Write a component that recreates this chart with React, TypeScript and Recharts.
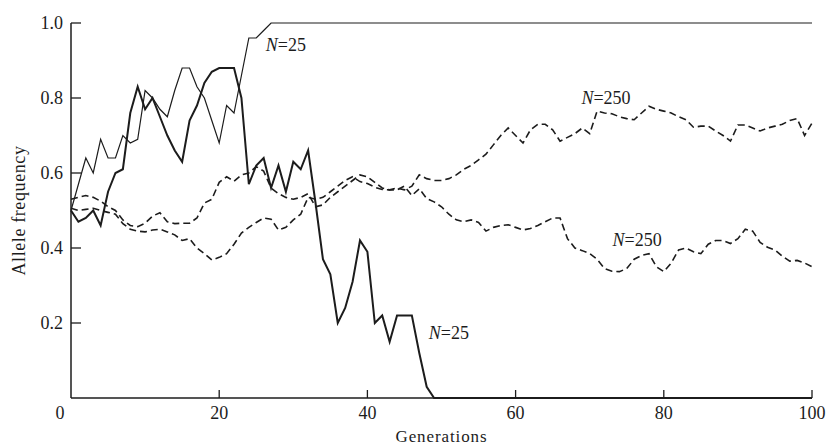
import { LineChart, Line, XAxis, YAxis, ReferenceDot } from 'recharts'

// allele frequency per generation
// N=25 run that drifts to fixation (flat at 1.0 after gen 27)
const N25_FIXED = [
  0.5, 0.57, 0.64, 0.6, 0.69, 0.64, 0.64, 0.7, 0.68, 0.69,
  0.82, 0.8, 0.77, 0.75, 0.82, 0.88, 0.88, 0.83, 0.8, 0.74,
  0.68, 0.78, 0.76, 0.86, 0.96, 0.96, 0.98, 1.0,
]
// N=25 run that drifts to loss (flat at 0 after gen 49)
const N25_LOST = [
  0.5, 0.47, 0.48, 0.5, 0.46, 0.55, 0.6, 0.61, 0.76, 0.83,
  0.77, 0.8, 0.75, 0.7, 0.66, 0.63, 0.74, 0.78, 0.84, 0.87,
  0.88, 0.88, 0.88, 0.8, 0.57, 0.62, 0.64, 0.56, 0.62, 0.55,
  0.63, 0.61, 0.66, 0.52, 0.37, 0.33, 0.2, 0.24, 0.31, 0.42,
  0.39, 0.2, 0.22, 0.15, 0.22, 0.22, 0.22, 0.12, 0.03, 0.0,
]
const LAST_GEN = 100
const FIXED_END = 1.0
const LOST_END = 0.0

const N250_HIGH = [
  0.53, 0.535, 0.54, 0.535, 0.525, 0.51, 0.5, 0.475, 0.46, 0.457,
  0.466, 0.485, 0.494, 0.47, 0.465, 0.466, 0.466, 0.48, 0.52, 0.53,
  0.575, 0.59, 0.578, 0.595, 0.6, 0.617, 0.605, 0.56, 0.545, 0.535,
  0.53, 0.535, 0.545, 0.51, 0.515, 0.535, 0.55, 0.565, 0.58, 0.595,
  0.59, 0.575, 0.56, 0.555, 0.56, 0.555, 0.565, 0.595, 0.585, 0.58,
  0.58, 0.585, 0.595, 0.61, 0.62, 0.635, 0.65, 0.675, 0.7, 0.72,
  0.7, 0.68, 0.715, 0.73, 0.73, 0.715, 0.685, 0.695, 0.705, 0.72,
  0.705, 0.765, 0.76, 0.758, 0.75, 0.745, 0.742, 0.76, 0.778, 0.77,
  0.765, 0.76, 0.75, 0.742, 0.722, 0.725, 0.725, 0.712, 0.7, 0.685,
  0.728, 0.728, 0.72, 0.712, 0.72, 0.725, 0.73, 0.74, 0.745, 0.7,
  0.733,
]
const N250_LOW = [
  0.506, 0.5, 0.503, 0.506, 0.5, 0.495, 0.49, 0.465, 0.45, 0.445,
  0.443, 0.448, 0.45, 0.443, 0.435, 0.42, 0.425, 0.4, 0.385, 0.368,
  0.375, 0.385, 0.41, 0.44, 0.455, 0.468, 0.48, 0.477, 0.448, 0.455,
  0.475, 0.49, 0.535, 0.53, 0.535, 0.55, 0.565, 0.58, 0.59, 0.577,
  0.572, 0.562, 0.556, 0.555, 0.555, 0.565, 0.54, 0.558, 0.532, 0.523,
  0.51, 0.49, 0.475, 0.47, 0.475, 0.468, 0.445, 0.455, 0.46, 0.462,
  0.455, 0.448, 0.452, 0.46, 0.47, 0.48, 0.48, 0.425, 0.4, 0.393,
  0.385, 0.37, 0.345, 0.338, 0.337, 0.345, 0.37, 0.38, 0.385, 0.35,
  0.337, 0.36, 0.395, 0.4, 0.39, 0.385, 0.41, 0.42, 0.42, 0.412,
  0.425, 0.45, 0.445, 0.415, 0.402, 0.395, 0.378, 0.365, 0.367, 0.36,
  0.35,
]

const X_TICKS = [0, 20, 40, 60, 80, 100]
const Y_TICKS = [0.2, 0.4, 0.6, 0.8, 1.0]

// annotation labels: [generation, frequency, N]
const LABELS: [number, number, string][] = [
  [29, 0.941, '25'],
  [51, 0.173, '25'],
  [72.2, 0.8, '250'],
  [76.4, 0.421, '250'],
]

const INK = '#1c1c1c'
const FONT = '"Liberation Serif", "Times New Roman", serif'

const toPoints = (vals: number[]) => vals.map((freq, gen) => ({ gen, freq }))

const fixedData = [...toPoints(N25_FIXED), { gen: LAST_GEN, freq: FIXED_END }]
const lostData = [...toPoints(N25_LOST), { gen: LAST_GEN, freq: LOST_END }]
const highData = toPoints(N250_HIGH)
const lowData = toPoints(N250_LOW)

function XTick(props: any) {
  const { x, y, payload } = props
  if (payload.value === 0) {
    return (
      <text x={x - 11} y={y + 15} textAnchor="middle" dominantBaseline="central" fontSize={18} fontFamily={FONT} fill={INK}>
        0
      </text>
    )
  }
  return (
    <g>
      <line x1={x} y1={y} x2={x} y2={y - 8} stroke={INK} strokeWidth={1.3} />
      <text x={x} y={y + 15} textAnchor="middle" dominantBaseline="central" fontSize={18} fontFamily={FONT} fill={INK}>
        {payload.value}
      </text>
    </g>
  )
}

function YTick(props: any) {
  const { x, y, payload } = props
  return (
    <g>
      <line x1={x + 8} y1={y} x2={x + 18} y2={y} stroke={INK} strokeWidth={1.3} />
      <text x={x} y={y} textAnchor="end" dominantBaseline="central" fontSize={18} fontFamily={FONT} fill={INK}>
        {Number(payload.value).toFixed(1)}
      </text>
    </g>
  )
}

function NLabel(text: string) {
  return (props: any) => {
    const { viewBox } = props
    const cx = viewBox.x + viewBox.width / 2
    const cy = viewBox.y + viewBox.height / 2
    return (
      <text x={cx} y={cy} textAnchor="middle" dominantBaseline="central" fontSize={18} fontFamily={FONT} fill={INK}>
        <tspan fontStyle="italic">N</tspan>={text}
      </text>
    )
  }
}

function YTitle(props: any) {
  const { viewBox } = props
  const x = viewBox.x + 19
  const y = viewBox.y + viewBox.height / 2
  return (
    <text
      x={x}
      y={y}
      transform={`rotate(-90, ${x}, ${y})`}
      textAnchor="middle"
      dominantBaseline="central"
      fontSize={18}
      letterSpacing={0.6}
      fontFamily={FONT}
      fill={INK}
    >
      Allele frequency
    </text>
  )
}

function XTitle(props: any) {
  const { viewBox } = props
  const x = viewBox.x + viewBox.width / 2
  return (
    <text x={x} y={436} textAnchor="middle" dominantBaseline="central" fontSize={17} letterSpacing={0.9} fontFamily={FONT} fill={INK}>
      Generations
    </text>
  )
}

export default function App() {
  return (
    <div style={{ position: 'absolute', left: 0, top: 0, background: '#fff' }}>
      <LineChart width={828} height={446} margin={{ top: 23, right: 16, bottom: 0, left: 0 }}>
        <XAxis
          dataKey="gen"
          type="number"
          domain={[0, 100]}
          ticks={X_TICKS}
          interval={0}
          height={48}
          tickSize={0}
          tickMargin={0}
          tick={<XTick />}
          axisLine={{ stroke: INK, strokeWidth: 1.5 }}
          label={<XTitle />}
        />
        <YAxis
          type="number"
          domain={[0, 1]}
          ticks={Y_TICKS}
          interval={0}
          width={71}
          tickSize={0}
          tickMargin={8}
          tick={<YTick />}
          axisLine={{ stroke: INK, strokeWidth: 1.5 }}
          label={<YTitle />}
        />
        <Line data={highData} dataKey="freq" type="linear" stroke={INK} strokeWidth={1.6} strokeDasharray="7 4" dot={false} isAnimationActive={false} />
        <Line data={lowData} dataKey="freq" type="linear" stroke={INK} strokeWidth={1.6} strokeDasharray="7 4" dot={false} isAnimationActive={false} />
        <Line data={fixedData} dataKey="freq" type="linear" stroke={INK} strokeWidth={1.2} dot={false} isAnimationActive={false} />
        <Line data={lostData} dataKey="freq" type="linear" stroke={INK} strokeWidth={2} dot={false} isAnimationActive={false} />
        {LABELS.map(([gen, freq, n], i) => (
          <ReferenceDot key={i} x={gen} y={freq} r={0} fill="none" stroke="none" label={{ content: NLabel(n) }} />
        ))}
      </LineChart>
    </div>
  )
}
